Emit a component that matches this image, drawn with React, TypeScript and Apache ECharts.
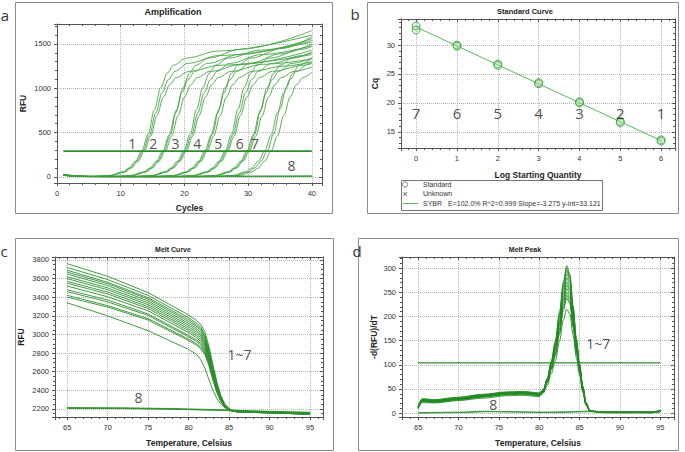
import React, { useEffect, useRef } from "react";
import * as echarts from "echarts";

const FONT = "'Liberation Sans', Arial, sans-serif";
const NUMFONT = "'Open Sans', 'Noto Sans', sans-serif";

// ---------- Panel a: Amplification ----------
const ampCurves: number[][][] = [
  [[1,22],[2,15],[4,4],[5.3,2],[8.3,15],[10.3,55],[11.3,100],[12.3,175],[13.3,290],[14.3,480],[15.3,760],[16.3,1010],[17.3,1170],[18.3,1260],[20.3,1340],[25.3,1420],[40,1600]],
  [[1,20],[2,14],[4,4],[5.5,2],[8.5,15],[10.5,55],[11.5,100],[12.5,175],[13.5,290],[14.5,470],[15.5,720],[16.5,950],[17.5,1100],[18.5,1190],[20.5,1280],[25.5,1370],[40,1520]],
  [[1,24],[2,16],[4,5],[5.7,2],[8.7,15],[10.7,55],[11.7,100],[12.7,175],[13.7,290],[14.7,460],[15.7,690],[16.7,900],[17.7,1040],[18.7,1120],[20.7,1190],[25.7,1260],[40,1380]],
  [[1,18],[2,12],[4,3],[8.6,2],[11.6,15],[13.6,55],[14.6,100],[15.6,175],[16.6,290],[17.6,470],[18.6,720],[19.6,950],[20.6,1100],[21.6,1190],[23.6,1280],[28.6,1380],[40,1560]],
  [[1,21],[2,14],[4,4],[8.8,2],[11.8,15],[13.8,55],[14.8,100],[15.8,175],[16.8,290],[17.8,480],[18.8,760],[19.8,1010],[20.8,1170],[21.8,1260],[23.8,1340],[28.8,1440],[40,1650]],
  [[1,19],[2,13],[4,4],[9,2],[12,15],[14,55],[15,100],[16,175],[17,290],[18,460],[19,690],[20,900],[21,1040],[22,1120],[24,1190],[29,1270],[40,1430]],
  [[1,23],[2,15],[4,4],[11.9,2],[14.9,15],[16.9,55],[17.9,100],[18.9,175],[19.9,290],[20.9,480],[21.9,760],[22.9,1010],[23.9,1170],[24.9,1260],[26.9,1340],[31.9,1430],[40,1540]],
  [[1,20],[2,13],[4,3],[12.1,2],[15.1,15],[17.1,55],[18.1,100],[19.1,175],[20.1,290],[21.1,470],[22.1,720],[23.1,950],[24.1,1100],[25.1,1190],[27.1,1280],[32.1,1380],[40,1480]],
  [[1,22],[2,14],[4,4],[12.3,2],[15.3,15],[17.3,55],[18.3,100],[19.3,175],[20.3,290],[21.3,460],[22.3,690],[23.3,900],[24.3,1040],[25.3,1120],[27.3,1190],[32.3,1270],[40,1330]],
  [[1,21],[2,14],[4,4],[15.2,2],[18.2,15],[20.2,55],[21.2,100],[22.2,175],[23.2,290],[24.2,470],[25.2,720],[26.2,950],[27.2,1100],[28.2,1190],[30.2,1280],[35.2,1390],[40,1500]],
  [[1,19],[2,13],[4,3],[15.4,2],[18.4,15],[20.4,55],[21.4,100],[22.4,175],[23.4,290],[24.4,480],[25.4,760],[26.4,1010],[27.4,1170],[28.4,1260],[30.4,1340],[35.4,1450],[40,1580]],
  [[1,24],[2,16],[4,5],[15.6,2],[18.6,15],[20.6,55],[21.6,100],[22.6,175],[23.6,290],[24.6,460],[25.6,690],[26.6,900],[27.6,1040],[28.6,1120],[30.6,1190],[35.6,1250],[40,1300]],
  [[1,20],[2,13],[4,4],[18.4,2],[21.4,15],[23.4,55],[24.4,100],[25.4,175],[26.4,290],[27.4,480],[28.4,760],[29.4,1010],[30.4,1170],[31.4,1260],[33.4,1340],[38.4,1440],[40,1470]],
  [[1,22],[2,15],[4,4],[18.6,2],[21.6,15],[23.6,55],[24.6,100],[25.6,175],[26.6,290],[27.6,470],[28.6,720],[29.6,950],[30.6,1100],[31.6,1190],[33.6,1280],[38.6,1370],[40,1400]],
  [[1,18],[2,12],[4,3],[18.8,2],[21.8,15],[23.8,55],[24.8,100],[25.8,175],[26.8,290],[27.8,460],[28.8,690],[29.8,900],[30.8,1040],[31.8,1120],[33.8,1190],[38.8,1260],[40,1280]],
  [[1,21],[2,14],[4,4],[21.8,2],[24.8,15],[26.8,55],[27.8,100],[28.8,175],[29.8,290],[30.8,470],[31.8,720],[32.8,950],[33.8,1100],[34.8,1190],[36.8,1280],[40,1340]],
  [[1,23],[2,15],[4,4],[22,2],[25,15],[27,55],[28,100],[29,175],[30,290],[31,480],[32,760],[33,1010],[34,1170],[35,1260],[37,1340],[40,1410]],
  [[1,19],[2,13],[4,3],[22.2,2],[25.2,15],[27.2,55],[28.2,100],[29.2,175],[30.2,290],[31.2,460],[32.2,690],[33.2,900],[34.2,1040],[35.2,1120],[37.2,1190],[40,1240]],
  [[1,20],[2,14],[4,4],[24.6,2],[27.6,15],[29.6,55],[30.6,100],[31.6,175],[32.6,290],[33.6,470],[34.6,720],[35.6,950],[36.6,1100],[37.6,1190],[39.6,1280],[40,1290]],
  [[1,22],[2,15],[4,4],[25,2],[28,15],[30,55],[31,100],[32,175],[33,290],[34,480],[35,760],[36,1010],[37,1170],[38,1260],[40,1340]],
  [[1,24],[2,16],[4,5],[25.6,2],[28.6,15],[30.6,55],[31.6,100],[32.6,175],[33.6,290],[34.6,460],[35.6,690],[36.6,900],[37.6,1040],[38.6,1120],[40,1180]],
];
const ampNegative: number[][][] = [
  [[1,20],[3,8],[6,3],[15,2],[25,4],[35,6],[40,8]],
  [[1,15],[3,5],[8,1],[20,3],[30,2],[40,4]],
  [[1,25],[2,18],[5,4],[18,6],[28,8],[40,10]],
];
const ampThreshold = [[1, 290], [40, 290]];
const ampLabels = [[11.8,372,"1"],[15.1,372,"2"],[18.6,372,"3"],[22.0,372,"4"],[25.3,372,"5"],[28.7,372,"6"],[31.1,372,"7"],[36.8,124,"8"]];

// ---------- Panel b: Standard Curve ----------
const stdPoints = [[0,33.3],[0,32.6],[1,30.0],[1,29.8],[2,26.7],[2,26.5],[3,23.5],[3,23.3],[4,20.2],[4,20.0],[5,16.8],[5,16.6],[6,13.6],[6,13.4]];
const stdFit = [[0, 33.121], [6, 13.471]];
const stdLabels = [[0,18.3,"7"],[1,18.3,"6"],[2,18.3,"5"],[3,18.3,"4"],[4,18.3,"3"],[5,18.3,"2"],[6,18.3,"1"]];
const legendRows = ["Standard", "Unknown", "SYBR"];
const legendFit = "E=102.0% R^2=0.999 Slope=-3.275 y-int=33.121";

// ---------- Panel c: Melt Curve ----------
const meltTemps = [65,70,75,80,81,81.5,82,82.5,83,83.5,84,84.5,85,85.5,86,88,91,95];
const meltCurves: number[][] = [
  [3760,3625,3450,3210,3150,3110,3030,2880,2680,2490,2340,2250,2205,2185,2178,2172,2165,2155],
  [3720,3590,3420,3180,3120,3080,3000,2850,2650,2470,2330,2245,2200,2182,2176,2170,2163,2152],
  [3690,3560,3395,3160,3100,3060,2980,2830,2640,2460,2320,2240,2200,2182,2175,2170,2162,2150],
  [3670,3545,3380,3140,3085,3045,2965,2815,2625,2450,2315,2238,2198,2180,2174,2168,2160,2148],
  [3650,3525,3360,3120,3065,3020,2945,2800,2610,2440,2310,2235,2196,2180,2173,2168,2160,2150],
  [3620,3500,3340,3100,3045,3000,2925,2780,2600,2430,2305,2232,2195,2180,2172,2167,2160,2150],
  [3600,3480,3320,3080,3025,2985,2910,2770,2590,2425,2300,2230,2195,2179,2172,2166,2158,2148],
  [3570,3455,3300,3060,3005,2965,2895,2755,2580,2420,2298,2228,2194,2178,2171,2166,2158,2148],
  [3550,3435,3280,3040,2985,2945,2875,2740,2565,2410,2293,2226,2193,2178,2171,2165,2157,2146],
  [3520,3405,3255,3020,2965,2925,2855,2725,2555,2405,2290,2225,2192,2177,2170,2165,2157,2146],
  [3480,3370,3220,2990,2940,2900,2835,2705,2540,2395,2285,2222,2191,2177,2170,2164,2156,2145],
  [3460,3350,3205,2975,2925,2885,2820,2695,2530,2390,2282,2220,2190,2176,2170,2164,2156,2145],
  [3420,3310,3170,2950,2900,2860,2800,2680,2520,2385,2280,2218,2190,2176,2169,2163,2155,2144],
  [3400,3295,3155,2935,2885,2845,2785,2670,2512,2380,2278,2217,2189,2175,2169,2163,2155,2144],
  [3340,3200,3040,2840,2785,2730,2640,2520,2400,2310,2250,2210,2190,2178,2170,2163,2155,2144],
];
const meltNegative: number[][][] = [
  [[65,2215],[72,2212],[78,2205],[84,2192],[88,2180],[95,2165]],
  [[65,2210],[72,2208],[78,2200],[84,2188],[88,2176],[95,2160]],
  [[65,2206],[72,2204],[78,2197],[84,2185],[88,2172],[95,2158]],
];
const meltLabels = [[86.3,2790,"1~7"],[73.8,2325,"8"]];

// ---------- Panel d: Melt Peak ----------
const peakTemps = [65,65.5,67,70,73,76,78,80,80.5,81,81.5,82,82.5,83,83.4,83.8,84.2,84.6,85,85.4,85.8,86.3,88,94,95];
const peakCurves: number[][] = [
  [12,28,26,31,37,42,43,40,47,72,108,150,208,272,305,288,222,155,102,56,22,5,2,2,6],
  [14,27,25,30,36,41,42,39,46,70,105,146,203,266,300,283,218,152,100,55,21,5,2,2,5],
  [10,26,24,29,35,40,41,38,45,69,103,143,199,262,295,279,215,150,99,54,21,4,2,1,4],
  [13,29,27,32,38,43,44,41,48,71,104,142,196,256,288,273,210,147,97,53,20,4,2,2,5],
  [11,25,23,28,34,39,40,37,44,66,99,136,189,249,280,266,205,143,95,52,20,4,1,1,4],
  [12,27,25,30,36,41,42,39,46,67,99,134,185,242,272,258,199,139,93,51,19,4,2,2,5],
  [14,30,28,33,39,44,45,42,49,69,99,132,181,236,265,252,195,137,92,50,19,4,2,2,6],
  [10,24,22,27,33,38,39,36,43,63,93,126,175,230,258,245,190,134,90,49,18,4,1,1,4],
  [13,28,26,31,37,42,43,40,47,66,94,125,171,223,250,238,185,131,88,48,18,4,2,2,5],
  [11,26,24,29,35,40,41,38,45,63,91,121,166,218,244,232,181,128,86,47,18,4,2,1,4],
  [12,27,25,30,36,41,42,39,46,63,90,119,163,213,238,226,177,125,84,46,17,4,2,2,5],
  [9,22,21,26,31,36,37,34,41,57,82,108,148,193,215,205,161,115,78,43,16,4,1,1,4],
];
const peakNegative: number[][][] = [
  [[65,1],[70,2],[73,4],[76,3],[80,2],[84,3],[86,4],[90,2],[95,3]],
  [[65,0],[70,1],[74,3],[78,2],[82,1],[86,3],[90,1],[95,2]],
];
const peakThreshold = [[65, 104], [95, 104]];
const peakLabels = [[87.3,145,"1~7"],[74.3,17,"8"]];

// ---------- helpers ----------
const plainNum = (v: number) => String(+v.toFixed(2));

const axisCommon = (grid: number, min: number, max: number, interval: number) => ({
  type: "value",
  gridIndex: grid,
  min,
  max,
  minInterval: interval,
  maxInterval: interval,
  splitNumber: Math.max(1, Math.round((max - min) / interval)),
});

const mainX = (grid, min, max, interval, minorSplit, name, nameGap, showMin) => ({
  ...axisCommon(grid, min, max, interval),
  position: "bottom",
  name,
  nameLocation: "middle",
  nameGap,
  nameTextStyle: { fontFamily: FONT, fontSize: 8.5, fontWeight: "bold", color: "#222" },
  axisLine: { show: true, onZero: false, lineStyle: { color: "#555", width: 1 } },
  axisTick: { show: true, inside: false, length: 3, lineStyle: { color: "#555" } },
  minorTick: { show: true, splitNumber: minorSplit, length: 2, lineStyle: { color: "#555" } },
  axisLabel: { fontFamily: FONT, fontSize: 7.5, color: "#333", margin: 6, showMinLabel: showMin, showMaxLabel: false, formatter: plainNum },
  splitLine: { show: true, lineStyle: { color: "#b5b5b5", type: "dotted", width: 1 } },
});
const mainY = (grid, min, max, interval, minorSplit, name, nameGap) => ({
  ...axisCommon(grid, min, max, interval),
  position: "left",
  name,
  nameLocation: "middle",
  nameGap,
  nameRotate: 90,
  nameTextStyle: { fontFamily: FONT, fontSize: 8.5, fontWeight: "bold", color: "#222" },
  axisLine: { show: true, onZero: false, lineStyle: { color: "#555", width: 1 } },
  axisTick: { show: true, inside: false, length: 3, lineStyle: { color: "#555" } },
  minorTick: { show: true, splitNumber: minorSplit, length: 2, lineStyle: { color: "#555" } },
  axisLabel: { fontFamily: FONT, fontSize: 7.5, color: "#333", margin: 6, showMinLabel: false, showMaxLabel: false, formatter: plainNum },
  splitLine: { show: true, lineStyle: { color: "#b5b5b5", type: "dotted", width: 1 } },
});
const sideX = (grid, min, max, interval, minorSplit) => ({
  ...axisCommon(grid, min, max, interval),
  position: "top",
  axisLine: { show: true, onZero: false, lineStyle: { color: "#555", width: 1 } },
  axisTick: { show: true, inside: true, length: 3, lineStyle: { color: "#555" } },
  minorTick: { show: true, splitNumber: minorSplit, length: 2, lineStyle: { color: "#555" } },
  axisLabel: { show: false },
  splitLine: { show: false },
});
const sideY = (grid, min, max, interval, minorSplit) => ({
  ...axisCommon(grid, min, max, interval),
  position: "right",
  axisLine: { show: true, onZero: false, lineStyle: { color: "#555", width: 1 } },
  axisTick: { show: true, inside: true, length: 3, lineStyle: { color: "#555" } },
  minorTick: { show: true, splitNumber: minorSplit, length: 2, lineStyle: { color: "#555" } },
  axisLabel: { show: false },
  splitLine: { show: false },
});

const lineSeries = (data, idx, color, width = 0.9, smooth: any = 0.35) => ({
  type: "line",
  xAxisIndex: idx,
  yAxisIndex: idx,
  data,
  showSymbol: false,
  symbol: "none",
  smooth,
  smoothMonotone: smooth ? "x" : undefined,
  lineStyle: { color, width },
  silent: true,
  z: 3,
});
const labelSeries = (data, idx, fontSize = 14) => ({
  type: "scatter",
  xAxisIndex: idx,
  yAxisIndex: idx,
  data,
  symbolSize: 1,
  itemStyle: { color: "rgba(0,0,0,0)" },
  label: {
    show: true,
    position: "inside",
    formatter: (p) => p.data[2],
    fontSize,
    fontFamily: NUMFONT,
    color: "#222",
  },
  silent: true,
  z: 10,
});

const frame = (x, y, w, h) => ({
  type: "rect",
  shape: { x: x + 0.5, y: y + 0.5, width: w, height: h },
  style: { fill: "none", stroke: "#8c8c8c", lineWidth: 1 },
  silent: true,
  z: 0,
});
const txt = (text, x, y, font, fill = "#222", align = "center") => ({
  type: "text",
  x,
  y,
  style: { text, font, fill, textAlign: align, textVerticalAlign: "middle" },
  silent: true,
  z: 20,
});

export default function App() {
  const ref = useRef<HTMLDivElement>(null);
  useEffect(() => {
    if (!ref.current) return;
    const chart = echarts.init(ref.current, null, { renderer: "svg" });

    const series: any[] = [];
    // panel a
    ampCurves.forEach((c) => series.push(lineSeries(c, 0, "#45a545", 0.9)));
    ampNegative.forEach((c) => series.push(lineSeries(c, 0, "#3c9c3c", 0.9)));
    series.push(lineSeries(ampThreshold, 0, "#2e8b2e", 1.6, false));
    series.push(labelSeries(ampLabels, 0));
    // panel b
    series.push(lineSeries(stdFit, 1, "#5cb85c", 1, false));
    series.push({
      type: "scatter",
      xAxisIndex: 1,
      yAxisIndex: 1,
      data: stdPoints,
      symbol: "circle",
      symbolSize: 8,
      itemStyle: { color: "rgba(150,215,150,0.35)", borderColor: "#3a9a3a", borderWidth: 1 },
      silent: true,
      z: 5,
    });
    series.push(labelSeries(stdLabels, 1, 15));
    // panel c
    meltCurves.forEach((ys) =>
      series.push(lineSeries(meltTemps.map((t, i) => [t, ys[i]]), 2, "#2f8f2f", 0.9, false))
    );
    meltNegative.forEach((c) => series.push(lineSeries(c, 2, "#2f8f2f", 0.9, false)));
    series.push(labelSeries(meltLabels, 2));
    // panel d
    peakCurves.forEach((ys) =>
      series.push(lineSeries(peakTemps.map((t, i) => [t, ys[i]]), 3, "#228b22", 0.9, 0.3))
    );
    peakNegative.forEach((c) => series.push(lineSeries(c, 3, "#2f8f2f", 0.9, 0.3)));
    series.push(lineSeries(peakThreshold, 3, "#2e8b2e", 1.4, false));
    series.push(labelSeries(peakLabels, 3));

    const option: any = {
      animation: false,
      backgroundColor: "#ffffff",
      grid: [
        { left: 57, top: 24, width: 265, height: 159, show: false },
        { left: 401, top: 19, width: 274, height: 129, show: false },
        { left: 55, top: 257, width: 268, height: 160, show: false },
        { left: 402, top: 257, width: 272, height: 160, show: false },
      ],
      xAxis: [
        mainX(0, 0, 41.6, 10, 5, "Cycles", 20, true),
        mainX(1, -0.37, 6.34, 1, 5, "Log Starting Quantity", 22, false),
        mainX(2, 63.5, 96.6, 5, 5, "Temperature, Celsius", 21, false),
        mainX(3, 63.0, 96.7, 5, 5, "Temperature, Celsius", 21, false),
        sideX(0, 0, 41.6, 10, 5),
        sideX(1, -0.37, 6.34, 1, 5),
        sideX(2, 63.5, 96.6, 5, 5),
        sideX(3, 63.0, 96.7, 5, 5),
      ],
      yAxis: [
        mainY(0, -70, 1725, 500, 5, "RFU", 30),
        mainY(1, 12.2, 34.5, 5, 5, "Cq", 22),
        mainY(2, 2114, 3832, 200, 4, "RFU", 30),
        mainY(3, -8, 323, 50, 5, "-d(RFU)/dT", 24),
        sideY(0, -70, 1725, 500, 5),
        sideY(1, 12.2, 34.5, 5, 5),
        sideY(2, 2114, 3832, 200, 4),
        sideY(3, -8, 323, 50, 5),
      ],
      series,
      graphic: [
        frame(15, 2, 317, 211),
        frame(367, 2, 311, 211),
        frame(15, 238, 318, 212),
        frame(358, 238, 320, 212),
        txt("a", 5, 15, `15px ${NUMFONT}`, "#333"),
        txt("b", 355, 14, `15px ${NUMFONT}`, "#333"),
        txt("c", 4, 251, `15px ${NUMFONT}`, "#333"),
        txt("d", 357, 251, `15px ${NUMFONT}`, "#333"),
        txt("Amplification", 173, 12, `bold 9px ${FONT}`),
        txt("Standard Curve", 525, 11, `bold 7.5px ${FONT}`),
        txt("Melt Curve", 173, 249, `bold 7px ${FONT}`),
        txt("Melt Peak", 525, 249, `bold 7px ${FONT}`),
        {
          type: "rect",
          shape: { x: 401.5, y: 180.5, width: 201, height: 30 },
          style: { fill: "#fff", stroke: "#777", lineWidth: 1 },
          silent: true,
          z: 15,
        },
        {
          type: "circle",
          shape: { cx: 405, cy: 184.5, r: 2.6 },
          style: { fill: "none", stroke: "#555", lineWidth: 0.8 },
          silent: true,
          z: 16,
        },
        txt("×", 405, 193.5, `9px ${FONT}`, "#555"),
        {
          type: "line",
          shape: { x1: 403, y1: 203.5, x2: 418, y2: 203.5 },
          style: { stroke: "#5cb85c", lineWidth: 1 },
          silent: true,
          z: 16,
        },
        txt(legendRows[0], 423, 184.5, `7px ${FONT}`, "#333", "left"),
        txt(legendRows[1], 423, 193.5, `7px ${FONT}`, "#333", "left"),
        txt(legendRows[2], 423, 203.5, `7px ${FONT}`, "#333", "left"),
        txt(legendFit, 448, 203.5, `7px ${FONT}`, "#333", "left"),
      ],
    };
    chart.setOption(option);
    return () => chart.dispose();
  }, []);
  return (
    <div
      ref={ref}
      style={{ position: "absolute", left: 0, top: 0, width: 685, height: 452, background: "#fff" }}
    />
  );
}
